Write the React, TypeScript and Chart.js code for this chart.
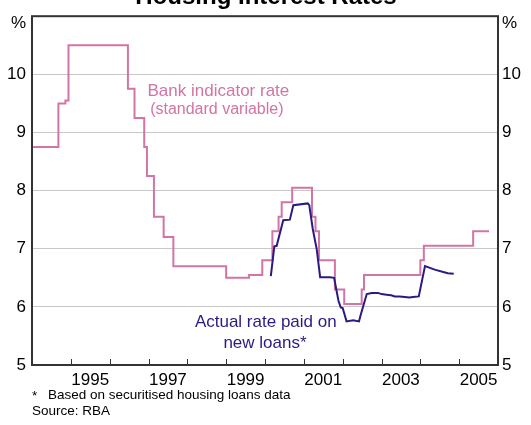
import React, { useEffect, useRef } from 'react';
import { Chart, registerables } from 'chart.js';

Chart.register(...registerables);

// Bank indicator rate (standard variable): change dates (decimal years) and new rate
const bankDates = [1994.0, 1994.68, 1994.86, 1994.94, 1996.47, 1996.64, 1996.89, 1996.96, 1997.14, 1997.39, 1997.64, 1999.0, 1999.59, 1999.93, 2000.19, 2000.35, 2000.43, 2000.7, 2001.21, 2001.3, 2001.39, 2001.8, 2002.04, 2002.49, 2002.55, 2004.0, 2004.09, 2005.36, 2005.77];
const bankRates = [8.75, 9.5, 9.55, 10.5, 9.75, 9.25, 8.75, 8.25, 7.55, 7.2, 6.7, 6.5, 6.55, 6.8, 7.3, 7.55, 7.8, 8.05, 7.55, 7.3, 6.8, 6.3, 6.05, 6.3, 6.55, 6.8, 7.05, 7.3, 7.3];

// Actual rate paid on new loans
const actualDates = [2000.15, 2000.24, 2000.3, 2000.47, 2000.64, 2000.73, 2001.1, 2001.14, 2001.23, 2001.33, 2001.42, 2001.67, 2001.78, 2001.89, 2001.95, 2002.0, 2002.1, 2002.27, 2002.42, 2002.46, 2002.62, 2002.75, 2002.91, 2003.0, 2003.13, 2003.25, 2003.34, 2003.47, 2003.6, 2003.72, 2003.81, 2003.96, 2004.12, 2004.37, 2004.59, 2004.71, 2004.86];
const actualRates = [6.53, 7.04, 7.05, 7.49, 7.5, 7.75, 7.78, 7.75, 7.34, 7.0, 6.51, 6.51, 6.5, 6.11, 5.99, 5.98, 5.75, 5.77, 5.75, 5.85, 6.22, 6.24, 6.24, 6.22, 6.21, 6.2, 6.18, 6.18, 6.17, 6.16, 6.17, 6.18, 6.7, 6.64, 6.6, 6.58, 6.57];

const yearTicks = [1995, 1996, 1997, 1998, 1999, 2000, 2001, 2002, 2003, 2004, 2005];
const yearLabels = [1995, 1997, 1999, 2001, 2003, 2005];
const yTicks = [5, 6, 7, 8, 9, 10];
const gridValues = [6, 7, 8, 9, 10];

const PINK = '#d274a4';
const PURPLE = '#2c1a82';
const FONT = 'Arial, "Liberation Sans", sans-serif';

const decorPlugin = {
  id: 'decor',
  afterDraw(chart: any) {
    const { ctx, chartArea: a, scales } = chart;
    const xs = scales.x;
    const ys = scales.y;
    ctx.save();
    // inward tick marks
    ctx.strokeStyle = '#333';
    ctx.lineWidth = 1;
    for (const yr of yearTicks) {
      const x = Math.round(xs.getPixelForValue(yr)) + 0.5;
      ctx.beginPath();
      ctx.moveTo(x, a.bottom);
      ctx.lineTo(x, a.bottom - 6);
      ctx.stroke();
    }
    // frame
    ctx.lineWidth = 2;
    ctx.strokeStyle = '#333';
    ctx.strokeRect(a.left, a.top, a.right - a.left, a.bottom - a.top);

    // title
    ctx.fillStyle = '#000';
    ctx.textAlign = 'center';
    ctx.textBaseline = 'alphabetic';
    ctx.font = `bold 24px ${FONT}`;
    ctx.fillText('Housing Interest Rates', 266, 4);

    // unit labels
    ctx.font = `17px ${FONT}`;
    ctx.textBaseline = 'middle';
    ctx.textAlign = 'right';
    ctx.fillText('%', a.left - 6, a.top + 7);
    ctx.textAlign = 'left';
    ctx.fillText('%', a.right + 4, a.top + 7);

    // annotations
    ctx.textAlign = 'center';
    ctx.fillStyle = PINK;
    ctx.font = `17px ${FONT}`;
    ctx.fillText('Bank indicator rate', xs.getPixelForValue(1998.8), ys.getPixelForValue(9.7));
    ctx.font = `16px ${FONT}`;
    ctx.fillText('(standard variable)', xs.getPixelForValue(1998.76), ys.getPixelForValue(9.39));
    ctx.fillStyle = PURPLE;
    ctx.font = `17px ${FONT}`;
    ctx.fillText('Actual rate paid on', xs.getPixelForValue(2000.02), ys.getPixelForValue(5.74));
    ctx.fillText('new loans*', xs.getPixelForValue(2000.0), ys.getPixelForValue(5.38));

    // footnotes
    ctx.fillStyle = '#000';
    ctx.textAlign = 'left';
    ctx.textBaseline = 'alphabetic';
    ctx.font = `13.5px ${FONT}`;
    ctx.fillText('*', 32, 400);
    ctx.fillText('Based on securitised housing loans data', 48, 399);
    ctx.fillText('Source: RBA', 32, 415);
    ctx.restore();
  },
};

export default function App() {
  const ref = useRef<HTMLCanvasElement | null>(null);
  useEffect(() => {
    if (!ref.current) return;
    const chart = new Chart(ref.current, {
      type: 'line',
      data: {
        datasets: [
          {
            label: 'Actual rate paid on new loans',
            data: actualDates.map((d, i) => ({ x: d, y: actualRates[i] })),
            borderColor: PURPLE,
            borderWidth: 2,
            pointRadius: 0,
            tension: 0,
            yAxisID: 'y',
          },
          {
            label: 'Bank indicator rate',
            data: bankDates.map((d, i) => ({ x: d, y: bankRates[i] })),
            borderColor: PINK,
            borderWidth: 2,
            pointRadius: 0,
            stepped: 'before',
            yAxisID: 'y',
          },
        ],
      },
      options: {
        animation: false,
        responsive: true,
        maintainAspectRatio: false,
        layout: { padding: { top: 15, bottom: 35, left: 0, right: 0 } },
        plugins: { legend: { display: false }, tooltip: { enabled: false }, title: { display: false } },
        scales: {
          x: {
            type: 'linear',
            min: 1994,
            max: 2006,
            grid: { display: false, drawTicks: false },
            border: { display: false },
            afterBuildTicks: (s: any) => {
              s.ticks = yearLabels.map((v) => ({ value: v + 0.5 }));
            },
            afterFit: (s: any) => {
              s.height = 25;
            },
            ticks: {
              autoSkip: false,
              maxRotation: 0,
              padding: 5,
              color: '#000',
              font: { family: FONT, size: 17 },
              callback: (v: any) => String(Math.floor(Number(v))),
            },
          },
          y: {
            position: 'left',
            min: 5,
            max: 11,
            afterBuildTicks: (s: any) => {
              s.ticks = yTicks.map((v) => ({ value: v }));
            },
            afterFit: (s: any) => {
              s.width = 32;
            },
            grid: {
              drawTicks: false,
              color: (c: any) => (gridValues.includes(c.tick?.value) ? '#c8c8c8' : 'rgba(0,0,0,0)'),
              lineWidth: 1,
            },
            border: { display: false },
            ticks: { padding: 6, color: '#000', font: { family: FONT, size: 17 } },
          },
          y2: {
            position: 'right',
            min: 5,
            max: 11,
            afterBuildTicks: (s: any) => {
              s.ticks = yTicks.map((v) => ({ value: v }));
            },
            afterFit: (s: any) => {
              s.width = 33;
            },
            grid: { display: false, drawTicks: false },
            border: { display: false },
            ticks: { padding: 4, color: '#000', font: { family: FONT, size: 17 } },
          },
        },
      },
      plugins: [decorPlugin],
    });
    return () => chart.destroy();
  }, []);
  return (
    <div style={{ position: 'fixed', left: 0, top: 0, width: 531, height: 425, background: '#fff' }}>
      <canvas ref={ref} />
    </div>
  );
}
